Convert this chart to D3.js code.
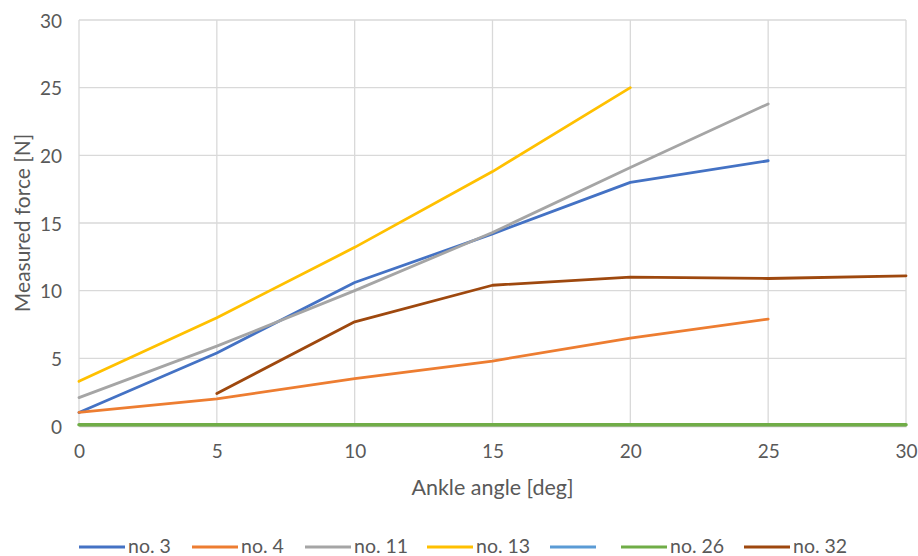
<!DOCTYPE html>
<html><head><meta charset="utf-8">
<script src="https://cdn.jsdelivr.net/npm/d3@7"></script>
<style>body{margin:0;background:#fff;} svg{display:block;}</style>
</head><body>
<svg id="chart" width="918" height="556"></svg>
<script>
const angles = [0, 5, 10, 15, 20, 25, 30];
const seriesNames = ["no. 3", "no. 4", "no. 11", "no. 13", "", "no. 26", "no. 32"];
const seriesColors = ["#4472C4", "#ED7D31", "#A5A5A5", "#FFC000", "#5B9BD5", "#70AD47", "#9E480E"];
const no3  = [1.0, 5.4, 10.6, 14.2, 18.0, 19.6, null];
const no4  = [1.0, 2.0, 3.5, 4.8, 6.5, 7.9, null];
const no11 = [2.1, 5.9, 10.0, 14.3, 19.1, 23.8, null];
const no13 = [3.3, 8.0, 13.2, 18.8, 25.0, null, null];
const blank = [null, null, null, null, null, null, null];
const no26 = [0.1, 0.1, 0.1, 0.1, 0.1, 0.1, 0.1];
const no32 = [null, 2.4, 7.7, 10.4, 11.0, 10.9, 11.1];
const xTicks = [0, 5, 10, 15, 20, 25, 30];
const yTicks = [0, 5, 10, 15, 20, 25, 30];
const allSeries = [no3, no4, no11, no13, blank, no26, no32];

const svg = d3.select("#chart");
const font = "Lato,'Carlito',sans-serif";
const x = d3.scaleLinear().domain([0, 30]).range([79, 906]);
const y = d3.scaleLinear().domain([0, 30]).range([426, 20]);

// gridlines
svg.append("g").selectAll("line").data(yTicks).join("line")
  .attr("x1", x(0)).attr("x2", x(30)).attr("y1", d => y(d)).attr("y2", d => y(d))
  .attr("stroke", "#d9d9d9").attr("stroke-width", 1.3);
svg.append("g").selectAll("line").data(xTicks).join("line")
  .attr("y1", y(0)).attr("y2", y(30)).attr("x1", d => x(d)).attr("x2", d => x(d))
  .attr("stroke", "#d9d9d9").attr("stroke-width", 1.3);

// axes
const xAxis = svg.append("g").attr("transform", `translate(0,${y(0)})`)
  .call(d3.axisBottom(x).tickValues(xTicks).tickSize(0).tickPadding(19));
xAxis.select(".domain").attr("stroke", "#bfbfbf").attr("stroke-width", 1.3);
xAxis.selectAll("text").attr("fill", "#595959").style("font-family", font).style("font-size", "19px");

const yAxis = svg.append("g").attr("transform", `translate(${x(0)},0)`)
  .call(d3.axisLeft(y).tickValues(yTicks).tickSize(0).tickPadding(17));
yAxis.select(".domain").remove();
yAxis.selectAll("text").attr("fill", "#595959").attr("dy", "0.38em").style("font-family", font).style("font-size", "19px");

// lines
const line = d3.line().defined(d => d[1] != null).x(d => x(d[0])).y(d => y(d[1]));
allSeries.forEach((s, i) => {
  svg.append("path").datum(angles.map((a, j) => [a, s[j]]))
    .attr("d", line).attr("fill", "none").attr("stroke", seriesColors[i])
    .attr("stroke-width", i === 5 ? 3.5 : 2.8).attr("stroke-linejoin", "round").attr("stroke-linecap", "round");
});

// axis titles
svg.append("text").attr("x", x(15)).attr("y", 495).attr("text-anchor", "middle")
  .attr("fill", "#595959").style("font-family", font).style("font-size", "21.5px").text("Ankle angle [deg]");
svg.append("text").attr("transform", `translate(30,${y(15)}) rotate(-90)`).attr("text-anchor", "middle")
  .attr("fill", "#595959").style("font-family", font).style("font-size", "21px").text("Measured force [N]");

// legend
const legX = [79, 192, 305, 427, 550, 621, 744];
const lg = svg.append("g");
seriesNames.forEach((n, i) => {
  lg.append("line").attr("x1", legX[i]).attr("x2", legX[i] + 46).attr("y1", 547).attr("y2", 547)
    .attr("stroke", seriesColors[i]).attr("stroke-width", 2.8);
  lg.append("text").attr("x", legX[i] + 49).attr("y", 553).attr("fill", "#595959")
    .style("font-family", font).style("font-size", "19.5px").text(n);
});
</script>
</body></html>
